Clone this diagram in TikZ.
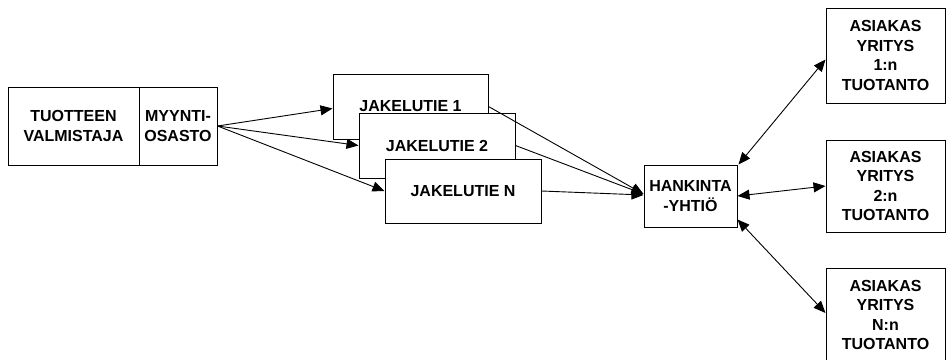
\documentclass[tikz,border=0pt]{standalone}
\usepackage{fontspec}
\setmainfont{Liberation Sans}
\usetikzlibrary{arrows.meta}
\begin{document}
\begin{tikzpicture}[x=1pt,y=-1pt,
  box/.style={draw,line width=1pt,fill=white,rectangle,inner sep=0pt,align=center,
    font=\fontsize{16}{19.5}\selectfont\bfseries},
  tip/.style={},
  conn/.style={line width=0.9pt,-{Triangle[length=12pt,width=10pt]}},
  dconn/.style={line width=0.9pt,{Triangle[length=12pt,width=10pt]}-{Triangle[length=12pt,width=10pt]}}]
\useasboundingbox (0,0) rectangle (947,359);
\node[box,minimum width=131pt,minimum height=78pt] (tv) at (73.5,126) {TUOTTEEN\\VALMISTAJA};
\node[box,minimum width=78pt,minimum height=78pt] (my) at (178,126) {MYYNTI-\\OSASTO};
\node[box,minimum width=155pt,minimum height=65pt] (j1) at (410.5,106.5) {JAKELUTIE 1};
\node[box,minimum width=156pt,minimum height=65pt] (j2) at (437,145.5) {JAKELUTIE 2};
\node[box,minimum width=156pt,minimum height=64pt] (jn) at (463,191) {JAKELUTIE N};
\node[box,minimum width=93pt,minimum height=62pt] (hk) at (690.5,196) {HANKINTA\\-YHTIÖ};
\node[box,minimum width=119pt,minimum height=95pt] (a1) at (885.5,55.5) {ASIAKAS\\YRITYS\\1:n\\TUOTANTO};
\node[box,minimum width=119pt,minimum height=92pt] (a2) at (885.5,186) {ASIAKAS\\YRITYS\\2:n\\TUOTANTO};
\node[box,minimum width=119pt,minimum height=94pt] (a3) at (885.5,315) {ASIAKAS\\YRITYS\\N:n\\TUOTANTO};
\draw[conn] (my.east) -- ([yshift=-2pt]j1.west);
\draw[conn] (my.east) -- (j2.west);
\draw[conn] (my.east) -- (jn.west);
\draw[conn] (j1.east) -- ([yshift=2pt]hk.west);
\draw[conn] (j2.east) -- ([yshift=2pt]hk.west);
\draw[conn] (jn.east) -- ([yshift=1pt]hk.west);
\draw[dconn] ([xshift=1pt]hk.north east) -- ([yshift=-4pt]a1.west);
\draw[dconn] (hk.east) -- (a2.west);
\draw[dconn] ([yshift=8pt]hk.south east) -- ([yshift=2pt]a3.west);
\end{tikzpicture}
\end{document}
